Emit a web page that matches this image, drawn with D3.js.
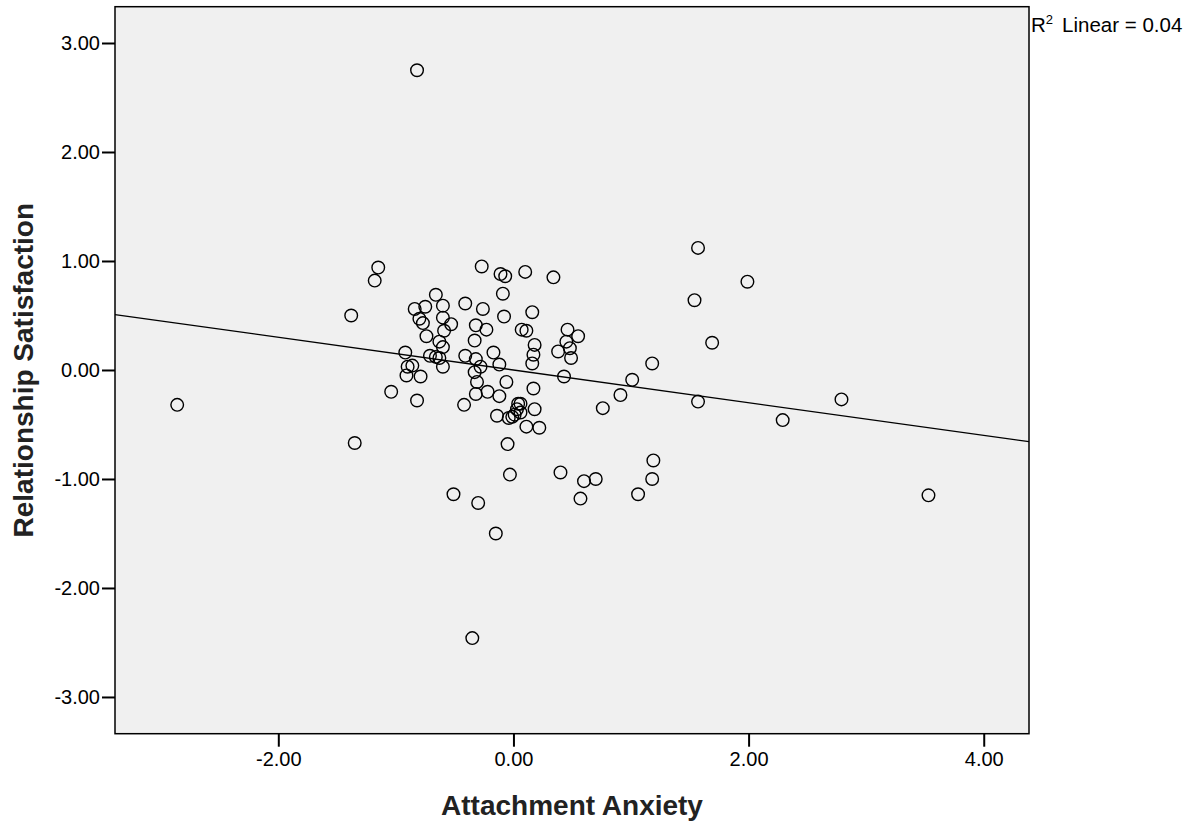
<!DOCTYPE html>
<html lang="en">
<head>
    <meta charset="UTF-8">
    <title>Attachment Anxiety vs Relationship Satisfaction</title>
    <script src="https://cdn.jsdelivr.net/npm/d3@7"></script>
    <style>
        body {
            margin: 0;
            background-color: #ffffff;
            font-family: 'Liberation Sans', Arial, sans-serif;
        }
        .axis text {
            font-family: 'Liberation Sans', Arial, sans-serif;
            font-size: 20px;
            fill: #000;
        }
        .axis-title {
            font-family: 'Liberation Sans', Arial, sans-serif;
            font-size: 28px;
            font-weight: bold;
            fill: #222;
        }
    </style>
</head>
<body>
    <svg width="1197" height="828"></svg>

    <script>
        // data
        const anxiety = [
            -2.86, -0.82, -1.38, -1.35, -1.15, -1.18, -1.04, -0.35, -0.51, -0.30,
            -0.15, 1.57, 1.54, 1.99, 1.69, 1.57, 1.18, 1.01, 0.91, 0.76,
            2.29, 2.79, 3.53, 1.19, 1.18, 1.06, 0.70, 0.60, 0.57, 0.40,
            -0.03, 0.34, 0.10, -0.27, -0.11, -0.07, -0.66, -0.09, -0.84, -0.75,
            -0.60, -0.41, -0.26, -0.08, 0.16, -0.80, -0.77, -0.60, -0.53, -0.59,
            -0.32, -0.23, 0.07, 0.11, 0.46, 0.55, -0.74, -0.63, -0.60, -0.33,
            0.18, 0.45, 0.48, 0.38, -0.92, -0.17, 0.17, 0.49, -0.71, -0.66,
            -0.63, -0.41, -0.32, 0.16, -0.60, -0.28, -0.12, -0.90, -0.86, -0.33,
            0.43, -0.91, -0.79, -0.31, -0.06, 0.17, -0.32, -0.22, -0.12, -0.82,
            -0.42, 0.04, 0.06, 0.03, 0.06, 0.01, 0.18, -0.14, -0.04, -0.01,
            0.11, 0.22, -0.05
        ];
        const satisfaction = [
            -0.32, 2.75, 0.50, -0.67, 0.94, 0.82, -0.20, -2.46, -1.14, -1.22,
            -1.50, 1.12, 0.64, 0.81, 0.25, -0.29, 0.06, -0.09, -0.23, -0.35,
            -0.46, -0.27, -1.15, -0.83, -1.00, -1.14, -1.00, -1.02, -1.18, -0.94,
            -0.96, 0.85, 0.90, 0.95, 0.88, 0.86, 0.69, 0.70, 0.56, 0.58,
            0.59, 0.61, 0.56, 0.49, 0.53, 0.47, 0.43, 0.48, 0.42, 0.36,
            0.41, 0.37, 0.37, 0.36, 0.37, 0.31, 0.31, 0.26, 0.21, 0.27,
            0.23, 0.26, 0.20, 0.17, 0.16, 0.16, 0.14, 0.11, 0.13, 0.12,
            0.11, 0.13, 0.10, 0.06, 0.03, 0.03, 0.05, 0.03, 0.04, -0.02,
            -0.06, -0.05, -0.06, -0.11, -0.11, -0.17, -0.22, -0.20, -0.24, -0.28,
            -0.32, -0.31, -0.31, -0.36, -0.39, -0.41, -0.36, -0.42, -0.44, -0.43,
            -0.52, -0.53, -0.68
        ];
        const xTicks = [-2, 0, 2, 4];
        const yTicks = [-3, -2, -1, 0, 1, 2, 3];
        const fitIntercept = 0.0;
        const fitSlope = -0.15;
        const rSquared = 0.04;

        const svg = d3.select("svg");

        const plotLeft = 115, plotRight = 1029, plotTop = 6.7, plotBottom = 733.7;

        const x = d3.scaleLinear()
            .domain([-3.389, 4.385])
            .range([plotLeft, plotRight]);
        const y = d3.scaleLinear()
            .domain([-3.337, 3.333])
            .range([plotBottom, plotTop]);

        // plot background
        svg.append("rect")
            .attr("x", plotLeft)
            .attr("y", plotTop)
            .attr("width", plotRight - plotLeft)
            .attr("height", plotBottom - plotTop)
            .attr("fill", "#f0f0f0");

        // fit line
        const [x0, x1] = x.domain();
        svg.append("line")
            .attr("x1", x(x0))
            .attr("y1", y(fitIntercept + fitSlope * x0))
            .attr("x2", x(x1))
            .attr("y2", y(fitIntercept + fitSlope * x1))
            .attr("stroke", "#000")
            .attr("stroke-width", 1.3);

        // points
        const points = anxiety.map((a, i) => ({ a: a, s: satisfaction[i] }));
        svg.append("g")
            .selectAll("circle")
            .data(points)
            .enter()
            .append("circle")
            .attr("cx", d => x(d.a))
            .attr("cy", d => y(d.s))
            .attr("r", 6.3)
            .attr("fill", "none")
            .attr("stroke", "#000")
            .attr("stroke-width", 1.4);

        // frame
        svg.append("rect")
            .attr("x", plotLeft)
            .attr("y", plotTop)
            .attr("width", plotRight - plotLeft)
            .attr("height", plotBottom - plotTop)
            .attr("fill", "none")
            .attr("stroke", "#000")
            .attr("stroke-width", 1.5);

        const fmt = d => d.toFixed(2);

        const xAxis = svg.append("g")
            .attr("class", "axis")
            .attr("transform", `translate(0,${plotBottom})`)
            .call(d3.axisBottom(x).tickValues(xTicks).tickFormat(fmt)
                .tickSize(13).tickPadding(5).tickSizeOuter(0));
        xAxis.select(".domain").remove();
        xAxis.selectAll("line").attr("stroke-width", 2);

        const yAxis = svg.append("g")
            .attr("class", "axis")
            .attr("transform", `translate(${plotLeft},0)`)
            .call(d3.axisLeft(y).tickValues(yTicks).tickFormat(fmt)
                .tickSize(13).tickPadding(2).tickSizeOuter(0));
        yAxis.select(".domain").remove();
        yAxis.selectAll("line").attr("stroke-width", 2);

        // axis titles
        svg.append("text")
            .attr("class", "axis-title")
            .attr("x", (plotLeft + plotRight) / 2)
            .attr("y", 815)
            .attr("text-anchor", "middle")
            .text("Attachment Anxiety");

        svg.append("text")
            .attr("class", "axis-title")
            .attr("transform", `translate(33,${(plotTop + plotBottom) / 2}) rotate(-90)`)
            .attr("text-anchor", "middle")
            .text("Relationship Satisfaction");

        // R squared note
        const note = svg.append("text")
            .attr("x", 1031)
            .attr("y", 32)
            .attr("font-size", 20.5)
            .attr("fill", "#000");
        note.append("tspan").text("R");
        note.append("tspan")
            .attr("font-size", 13)
            .attr("dy", -8)
            .text("2");
        note.append("tspan")
            .attr("dy", 8)
            .attr("dx", 9)
            .text("Linear = " + rSquared.toFixed(2));
    </script>
</body>
</html>
